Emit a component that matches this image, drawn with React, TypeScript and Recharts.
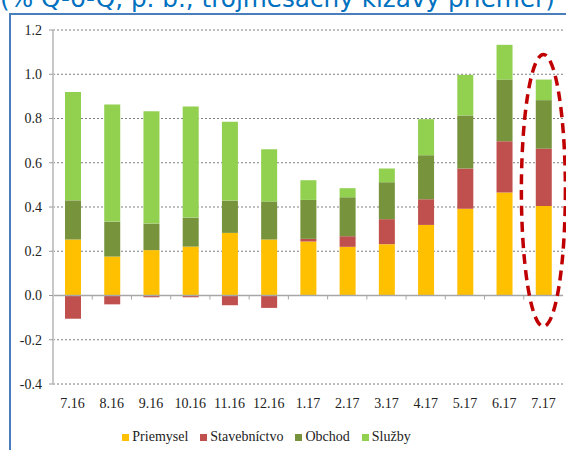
import React from "react"
import { BarChart, Bar, XAxis, YAxis, CartesianGrid, Legend, ReferenceLine, ReferenceDot } from "recharts"

const months = ["7.16", "8.16", "9.16", "10.16", "11.16", "12.16", "1.17", "2.17", "3.17", "4.17", "5.17", "6.17", "7.17"]
const priemysel = [0.253, 0.176, 0.205, 0.221, 0.283, 0.253, 0.244, 0.22, 0.232, 0.319, 0.392, 0.466, 0.405]
const stavebnictvo = [-0.105, -0.04, -0.008, -0.008, -0.044, -0.056, 0.012, 0.048, 0.113, 0.116, 0.182, 0.231, 0.259]
const obchod = [0.177, 0.158, 0.12, 0.131, 0.146, 0.172, 0.176, 0.176, 0.167, 0.199, 0.24, 0.279, 0.219]
const sluzby = [0.49, 0.529, 0.508, 0.502, 0.356, 0.236, 0.089, 0.041, 0.062, 0.163, 0.183, 0.157, 0.093]
const yTicks = [-0.4, -0.2, 0, 0.2, 0.4, 0.6, 0.8, 1.0, 1.2]

const series = [
    { key: "Priemysel", values: priemysel, color: "#FFC000" },
    { key: "Stavebníctvo", values: stavebnictvo, color: "#C0504D" },
    { key: "Obchod", values: obchod, color: "#77933C" },
    { key: "Služby", values: sluzby, color: "#92D050" },
]

const data = months.map((m, i) => {
    const row: any = { month: m }
    series.forEach(s => { row[s.key] = s.values[i] })
    return row
})

const serif = "Liberation Serif"

const LegendContent = () => (
    <div style={{ height: 36, display: "flex", justifyContent: "center", alignItems: "center", paddingTop: 10, boxSizing: "border-box", paddingRight: 18 }}>
        {series.map(s => (
            <div key={s.key} style={{ display: "flex", alignItems: "center", marginRight: 12, fontFamily: serif, fontSize: 14, color: "#222" }}>
                <span style={{ width: 7, height: 7, background: s.color, display: "inline-block", marginRight: 3 }} />
                {s.key}
            </div>
        ))}
    </div>
)

export default function App() {
    return (
        <div style={{ position: "absolute", left: 0, top: 0, width: 566, height: 450, overflow: "hidden", background: "#fff" }}>
            <div style={{ position: "absolute", left: 9, top: 13, width: 700, height: 600, border: "2px solid #4A7EBB" }} />
            <div style={{ position: "absolute", left: 0, top: -13, fontFamily: "DejaVu Sans", fontSize: 24.7, lineHeight: "24.7px", color: "#0070C0", whiteSpace: "nowrap" }}>
                (% Q-o-Q, p. b., trojmesačný kĺzavý priemer)
            </div>
            <div style={{ position: "absolute", left: 0, top: 0 }}>
                <BarChart width={566} height={450} data={data} stackOffset="sign" margin={{ top: 30, right: 3, left: 0, bottom: 0 }}>
                    <CartesianGrid vertical={false} stroke="#7F7F7F" strokeDasharray="2 2" />
                    <XAxis dataKey="month" height={30} axisLine={false} tickLine={false} tickMargin={8} interval={0}
                        tick={{ fontFamily: serif, fontSize: 14, fill: "#222" }} />
                    <YAxis width={53} domain={[-0.4, 1.2]} ticks={yTicks} tickFormatter={(v: number) => v.toFixed(1)}
                        axisLine={{ stroke: "#C8C8C8", strokeWidth: 2 }} tickLine={{ stroke: "#9A9A9A" }} tickSize={4} tickMargin={7}
                        tick={{ fontFamily: serif, fontSize: 14, fill: "#222" }} />
                    <Legend verticalAlign="bottom" height={36} content={<LegendContent />} />
                    {series.map(s => (
                        <Bar key={s.key} dataKey={s.key} stackId="a" fill={s.color} barSize={16} isAnimationActive={false} />
                    ))}
                    <ReferenceLine y={0} stroke="#A6A6A6" strokeWidth={1.5} />
                    {months.slice(1).map(m => (
                        <ReferenceLine key={m} position="start" stroke="#A6A6A6"
                            segment={[{ x: m, y: 0 }, { x: m, y: -0.018 }]} />
                    ))}
                    <ReferenceLine position="end" stroke="#A6A6A6"
                        segment={[{ x: months[months.length - 1], y: 0 }, { x: months[months.length - 1], y: -0.018 }]} />
                    <ReferenceDot x={months[months.length - 1]} y={0.475} r={0} ifOverflow="visible"
                        shape={(p: any) => (
                            <ellipse cx={p.cx} cy={p.cy} rx={22} ry={136} fill="none" stroke="#C00000" strokeWidth={3.5} strokeDasharray="10 6" />
                        )} />
                </BarChart>
            </div>
        </div>
    )
}
